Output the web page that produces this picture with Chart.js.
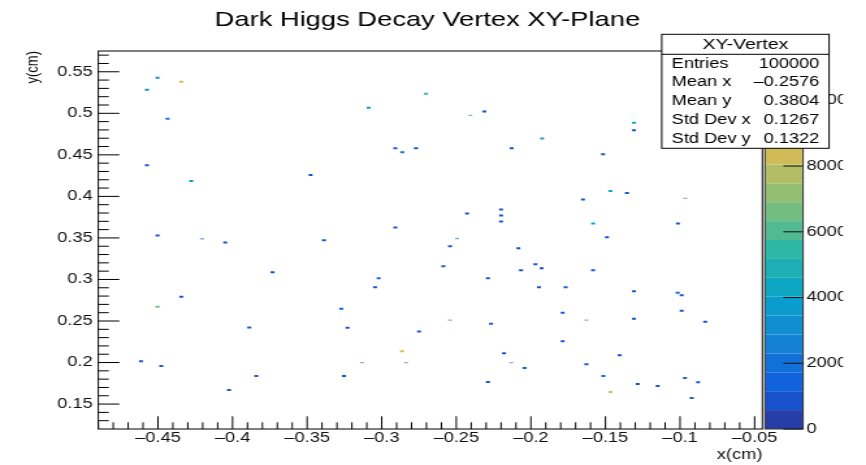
<!DOCTYPE html>
<html>
<head>
<meta charset="utf-8">
<title>Dark Higgs Decay Vertex XY-Plane</title>
<script src="https://cdn.jsdelivr.net/npm/chart.js@4.4.1/dist/chart.umd.min.js"></script>
<style>
  html, body { margin: 0; padding: 0; background: #fff; overflow: hidden; }
  /* the plot is drawn narrow and widened, like the original canvas export */
  #vertexChart { display: block; transform: scaleX(1.3003); transform-origin: 0 0; }
</style>
</head>
<body>
<canvas id="vertexChart" width="666" height="465"></canvas>
<script>
(function () {
  // filled bins: x (cm), y (cm), content
  var binX = [
    -0.4503, -0.4344, -0.4574, -0.4436, -0.4574, -0.4277, -0.3477, -0.4503,
    -0.2703, -0.3088, -0.2312, -0.1925, -0.2909, -0.2770, -0.2862, -0.2129,
    -0.2200, -0.2428, -0.2200, -0.2200, -0.2909, -0.1309, -0.1309, -0.1516,
    -0.1467, -0.1356, -0.1651, -0.1583, -0.1014, -0.1490, -0.4049, -0.3387,
    -0.3732, -0.4344, -0.4503, -0.3888, -0.4614, -0.4478, -0.3841, -0.4024,
    -0.2542, -0.2084, -0.2587, -0.1970, -0.2066, -0.1928, -0.3021, -0.2288,
    -0.3045, -0.1946, -0.1767, -0.3271, -0.3229, -0.2267, -0.2750, -0.1787,
    -0.1787, -0.2864, -0.2180, -0.2042, -0.3253, -0.2288, -0.1583, -0.1309,
    -0.1016, -0.0989, -0.0989, -0.1309, -0.0831, -0.1405, -0.1628, -0.1514,
    -0.0967, -0.0879, -0.1284, -0.1150, -0.1467, -0.0922
  ];
  var binY = [
    0.5428, 0.5380, 0.5284, 0.4935, 0.4374, 0.4185, 0.4257, 0.3529,
    0.5236, 0.5067, 0.5023, 0.4698, 0.4578, 0.4578, 0.4530, 0.4578,
    0.3841, 0.3793, 0.3769, 0.3697, 0.3625, 0.4887, 0.4795, 0.4506,
    0.4065, 0.4041, 0.3962, 0.3673, 0.3673, 0.3508, 0.3445, 0.3472,
    0.3088, 0.2791, 0.2671, 0.2423, 0.2015, 0.1958, 0.1838, 0.1669,
    0.3400, 0.3376, 0.3160, 0.3184, 0.3112, 0.3136, 0.3016, 0.3016,
    0.2907, 0.2907, 0.2907, 0.2647, 0.2418, 0.2467, 0.2375, 0.2599,
    0.2255, 0.2135, 0.2111, 0.1934, 0.1838, 0.1766, 0.3112, 0.2859,
    0.2839, 0.2811, 0.2623, 0.2526, 0.2490, 0.2087, 0.1978, 0.1838,
    0.1814, 0.1762, 0.1742, 0.1718, 0.1645, 0.1573
  ];
  var binZ = [
    3100, 8300, 3100, 2000, 800, 3700, 800, 800,
    5300, 3700, 800, 4300, 800, 800, 2000, 800,
    800, 800, 800, 800, 800, 4300, 800, 800,
    4300, 800, 800, 4300, 800, 800, 800, 800,
    800, 800, 6600, 800, 800, 800, 800, 800,
    800, 800, 800, 800, 800, 800, 1500, 800,
    800, 800, 800, 1500, 800, 800, 800, 800,
    800, 8300, 800, 1500, 800, 800, 800, 800,
    1500, 800, 800, 800, 800, 800, 800, 1500,
    1500, 800, 800, 800, 8300, 800
  ];

  // thin bins that only partly cover a pixel row
  var thinX = [-0.4205, -0.2406, -0.2495, -0.0965, -0.2542, -0.3132, -0.2837, -0.2131, -0.1628];
  var thinY = [0.3490, 0.4975, 0.3493, 0.3977, 0.2511, 0.1998, 0.1998, 0.1998, 0.2511];
  var thinZ = [800, 800, 800, 800, 800, 800, 800, 800, 800];

  var xTicks = [-0.45, -0.4, -0.35, -0.3, -0.25, -0.2, -0.15, -0.1, -0.05];
  var yTicks = [0.15, 0.2, 0.25, 0.3, 0.35, 0.4, 0.45, 0.5, 0.55];
  var zTicks = [0, 2000, 4000, 6000, 8000, 10000];

  var statNames = ["Entries", "Mean x", "Mean y", "Std Dev x", "Std Dev y"];
  var statValues = ["100000", "\u20130.2576", "0.3804", "0.1267", "0.1322"];

  var xMin = -0.49, xMax = -0.0448;
  var yMin = 0.12, yMax = 0.575;
  var zMax = 11500;
  var nContours = 20;

  // kBird gradient
  var birdStops = [0.0, 0.125, 0.25, 0.375, 0.5, 0.625, 0.75, 0.875, 1.0];
  var birdRed = [0.2082, 0.0592, 0.0780, 0.0232, 0.1802, 0.5301, 0.8186, 0.9956, 0.9764];
  var birdGreen = [0.1664, 0.3599, 0.5041, 0.6419, 0.7178, 0.7492, 0.7328, 0.7862, 0.9832];
  var birdBlue = [0.5293, 0.8684, 0.8385, 0.7914, 0.6425, 0.4662, 0.3499, 0.1968, 0.0539];

  function birdColor(f) {
    for (var i = 1; i < birdStops.length; i++) {
      if (f <= birdStops[i]) {
        var t = (f - birdStops[i - 1]) / (birdStops[i] - birdStops[i - 1]);
        return [
          Math.round(255 * (birdRed[i - 1] + t * (birdRed[i] - birdRed[i - 1]))),
          Math.round(255 * (birdGreen[i - 1] + t * (birdGreen[i] - birdGreen[i - 1]))),
          Math.round(255 * (birdBlue[i - 1] + t * (birdBlue[i] - birdBlue[i - 1])))
        ];
      }
    }
    return [249, 251, 14];
  }

  function bandColor(k, alpha) {
    var c = birdColor(Math.floor((k + 0.99) * 255 / nContours) / 255);
    return "rgba(" + c[0] + "," + c[1] + "," + c[2] + "," + (alpha == null ? 1 : alpha) + ")";
  }

  function zColor(z, alpha) {
    var k = Math.max(0, Math.min(nContours - 1, Math.floor(z / zMax * nContours)));
    return bandColor(k, alpha);
  }

  function points(xs, ys) {
    return xs.map(function (x, i) { return { x: x, y: ys[i] }; });
  }

  function fmtAxis(v) {
    var s = String(+Math.abs(v).toFixed(2));
    return v < 0 ? "\u2013" + s : s;
  }

  function setTicks(list) {
    return function (scale) {
      scale.ticks = list.map(function (v) { return { value: v }; });
    };
  }

  var SANS = "'Liberation Sans', Arial, Helvetica, sans-serif";
  Chart.defaults.font.family = SANS;
  Chart.defaults.color = "#000";

  // colour bar, frame, inward ticks and the statistics box
  var decorations = {
    id: "rootDecorations",
    afterDraw: function (chart) {
      var ctx = chart.ctx;
      var area = chart.chartArea;
      var xs = chart.scales.x, ys = chart.scales.y, zs = chart.scales.z;
      var barLeft = area.right + 2, barRight = area.right + 31.3;
      var i, v, p;

      ctx.save();

      for (i = 0; i < nContours; i++) {
        var yLow = zs.getPixelForValue(i * zMax / nContours);
        var yHigh = zs.getPixelForValue((i + 1) * zMax / nContours);
        ctx.fillStyle = bandColor(i);
        ctx.fillRect(barLeft, yHigh, barRight - barLeft, yLow - yHigh);
      }
      ctx.strokeStyle = "#333";
      ctx.lineWidth = 1;
      ctx.strokeRect(barLeft, area.top, barRight - barLeft, area.bottom - area.top);
      ctx.strokeStyle = "#111";
      ctx.beginPath();
      zTicks.forEach(function (t) {
        var py = zs.getPixelForValue(t);
        ctx.moveTo(barRight - 15.2, py);
        ctx.lineTo(barRight, py);
      });
      ctx.stroke();

      ctx.strokeStyle = "#000";
      ctx.strokeRect(area.left, area.top, area.right - area.left, area.bottom - area.top);

      ctx.beginPath();
      for (i = -49; i <= -5; i++) {
        v = i / 100;
        p = xs.getPixelForValue(v);
        ctx.moveTo(p, area.bottom);
        ctx.lineTo(p, area.bottom - (i % 5 === 0 ? 12.7 : 6.7));
      }
      for (i = 13; i <= 57; i++) {
        v = i / 100;
        p = ys.getPixelForValue(v);
        ctx.moveTo(area.left, p);
        ctx.lineTo(area.left + (i % 5 === 0 ? 16.2 : 8.1), p);
      }
      ctx.stroke();

      // the pad ends a little before the canvas edge
      ctx.fillStyle = "#fff";
      ctx.fillRect(648.3, 0, chart.width - 648.3, chart.height);

      var bx = 508.9, by = 34.3, bw = 128.7, headH = 20, rowH = 18.8;
      ctx.fillStyle = "#fff";
      ctx.fillRect(bx, by, bw, headH + rowH * statNames.length);
      ctx.strokeStyle = "#000";
      ctx.strokeRect(bx, by, bw, headH + rowH * statNames.length);
      ctx.beginPath();
      ctx.moveTo(bx, by + headH);
      ctx.lineTo(bx + bw, by + headH);
      ctx.stroke();

      ctx.fillStyle = "#000";
      ctx.textBaseline = "middle";
      ctx.font = "15px " + SANS;
      ctx.textAlign = "center";
      ctx.fillText("XY-Vertex", bx + bw / 2, by + headH / 2 + 0.5);
      ctx.font = "14px " + SANS;
      for (i = 0; i < statNames.length; i++) {
        var ry = by + headH + rowH * (i + 0.5);
        ctx.textAlign = "left";
        ctx.fillText(statNames[i], bx + 7.7, ry);
        ctx.textAlign = "right";
        ctx.fillText(statValues[i], bx + bw - 7.5, ry);
      }

      ctx.restore();
    }
  };

  new Chart(document.getElementById("vertexChart"), {
    type: "scatter",
    data: {
      datasets: [
        {
          label: "XY-Vertex",
          data: points(binX, binY),
          pointStyle: "line",
          pointRadius: 1.5,
          pointBorderWidth: 2,
          pointBorderColor: binZ.map(function (z) { return zColor(z); }),
        },
        {
          label: "XY-Vertex thin",
          data: points(thinX, thinY),
          pointStyle: "line",
          pointRadius: 1.5,
          pointBorderWidth: 1.3,
          pointBorderColor: thinZ.map(function (z) { return zColor(z, 0.5); }),
        },
      ],
    },
    options: {
      responsive: false,
      animation: false,
      events: [],
      layout: { padding: { left: 0, right: 8.6, top: 0, bottom: 0 } },
      scales: {
        x: {
          type: "linear",
          min: xMin,
          max: xMax,
          afterBuildTicks: setTicks(xTicks),
          afterFit: function (scale) { scale.height = 36; },
          grid: { display: true, drawOnChartArea: false, drawTicks: false },
          border: { display: false },
          ticks: {
            autoSkip: false,
            maxRotation: 0,
            padding: 1,
            font: { size: 14 },
            color: "#111",
            callback: function (value) { return fmtAxis(value); },
          },
          title: {
            display: true,
            text: "x(cm)",
            align: "end",
            font: { size: 14 },
            color: "#111",
            padding: { top: 0, bottom: 1.6 },
          },
        },
        y: {
          type: "linear",
          min: yMin,
          max: yMax,
          afterBuildTicks: setTicks(yTicks),
          afterFit: function (scale) { scale.width = 75.6; },
          grid: { display: true, drawOnChartArea: false, drawTicks: false },
          border: { display: false },
          ticks: {
            autoSkip: false,
            padding: 4.3,
            font: { size: 14 },
            color: "#111",
            callback: function (value) { return fmtAxis(value); },
          },
          title: {
            display: true,
            text: "y(cm)",
            align: "end",
            font: { size: 13 },
            color: "#111",
            padding: { top: 17.2, bottom: 0 },
          },
        },
        z: {
          axis: "y",
          type: "linear",
          position: "right",
          min: 0,
          max: zMax,
          afterBuildTicks: setTicks(zTicks),
          afterFit: function (scale) { scale.width = 71.1; },
          grid: {
            display: true,
            drawOnChartArea: false,
            drawTicks: true,
            tickLength: 30,
            tickColor: "rgba(0,0,0,0)",
          },
          border: { display: false },
          ticks: {
            autoSkip: false,
            padding: 4,
            font: { size: 14 },
            color: "#111",
            callback: function (value) { return String(value); },
          },
        },
      },
      plugins: {
        legend: { display: false },
        tooltip: { enabled: false },
        title: {
          display: true,
          text: "Dark Higgs Decay Vertex XY-Plane",
          font: { size: 21, weight: "normal" },
          color: "#000",
          padding: { top: 8, bottom: 17.8 },
        },
      },
    },
    plugins: [decorations],
  });
})();
</script>
</body>
</html>
